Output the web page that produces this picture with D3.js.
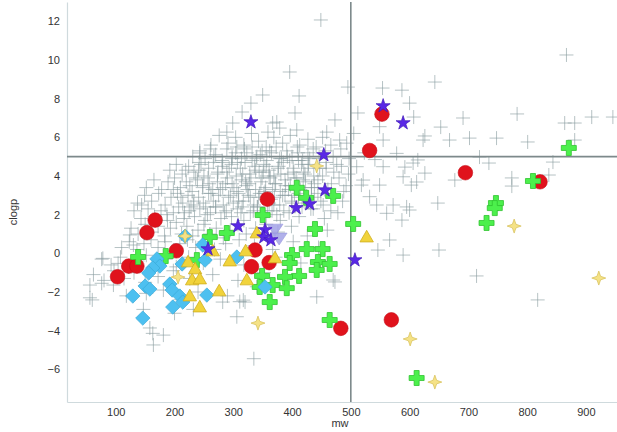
<!DOCTYPE html>
<html><head><meta charset="utf-8">
<script src="https://cdn.jsdelivr.net/npm/d3@7"></script>
<style>body{margin:0;background:#fff} text{font-family:"Liberation Sans",Arial,sans-serif}</style>
</head><body><svg id="c" width="617" height="432"></svg>
<script>
const xTicks=[100,200,300,400,500,600,700,800,900];
const yTicks=[-6,-4,-2,0,2,4,6,8,10,12];
const refX=500, refY=5;

const grayOuter=[[449,12.07],[867,10.26],[643,8.86],[587,8.44],[600,7.77],[607,7.05],[691,7.0],[783,7.21],[653,6.53],[626,6.07],[668,5.86],[702,5.96],[748,5.96],[801,5.76],[864,6.74],[881,6.74],[910,7.05],[946,7.05],[881,5.86],[719,4.98],[735,4.67],[844,4.72],[837,4.05],[774,3.9],[774,3.48],[677,3.79],[626,4.15],[612,3.69],[592,4.46],[614,4.83],[648,2.6],[595,2.4],[587,1.72],[650,0.17],[589,-0.09],[714,-1.17],[818,-2.41],[396,9.38],[412,8.14],[350,8.19],[330,7.77],[495,8.6],[554,8.55],[512,7.26],[473,6.9],[405,7.26],[374,6.79],[315,7.31],[299,6.74],[289,6.27],[367,6.74],[359,6.27],[379,6.48],[408,6.38],[459,6.27],[481,5.86],[243,5.19],
[518,3.53],[549,3.53],[603,3.53],[544,2.5],[572,2.5],[600,2.24],[561,2.07],[566,0.69],[546,0.17],[510,4.48],[521,3.79],[555,4.48],[589,3.96],[532,2.93],[555,5.86],[578,5.17],[606,4.67],[549,6.55],[623,5.86],[523,5.2],[541,4.85],
[306,-3.28],[317,-2.42],[320,-2.52],[282,-2.52],[442,-2.25],[470,-1.38],[473,-1.48],[163,-4.14],[181,-4.23],[164,-4.74],[158,-3.86],[335,-5.45],[311,-2.5],[340,-1.73],
[56,-2.3],[60,-2.41],[56,-1.64],[76,-1.55],[96,-1.64],[104,-0.52],[78,-0.26],[124,0.95],[144,2.5],[130,0.43],[152,-2.07],[181,-1.9]];

const grayCloud=[[262,5.6],[276,6.1],[291,5.7],[304,6.0],[318,5.6],[331,6.2],[343,5.8],[356,5.5],[369,6.0],[384,5.7],[397,6.1],[413,5.6],[427,5.9],[441,5.5],[452,6.0],[466,5.6],[493,5.7],[505,6.2],
[231,5.0],[243,5.3],[252,4.9],[261,5.4],[270,5.1],[281,4.8],[289,5.4],[298,5.0],[306,5.5],[314,4.9],[323,5.2],[332,5.5],[340,5.0],[349,5.3],[357,4.8],[365,5.2],[373,5.5],[382,4.9],[391,5.3],[400,5.0],[409,5.5],[418,4.8],[427,5.2],[436,5.4],[446,4.9],[457,5.3],[470,5.0],[483,5.4],[497,4.9],
[192,4.3],[203,4.6],[213,4.1],[224,4.5],[233,4.2],[242,4.7],[250,4.0],[258,4.4],[266,4.7],[273,4.1],[281,4.5],[289,4.2],[297,4.6],[305,4.0],[312,4.4],[320,4.7],[328,4.1],[336,4.5],[344,4.2],[352,4.6],[361,4.3],[369,4.0],[377,4.5],[385,4.7],[393,4.1],[402,4.4],[411,4.8],[420,4.2],[428,4.6],[437,4.0],[447,4.4],[458,4.7],[471,4.2],[484,4.5],[496,4.1],
[152,3.4],[165,3.8],[178,3.3],[189,3.7],[200,3.9],[210,3.4],[220,3.7],[230,3.2],[239,3.8],[248,3.5],[257,3.9],[265,3.3],[273,3.7],[282,3.4],[290,3.9],[298,3.6],[306,3.2],[314,3.8],[322,3.5],[330,3.9],[338,3.3],[347,3.7],[355,3.4],[363,3.9],[371,3.6],[380,3.2],[388,3.8],[397,3.5],[405,3.9],[414,3.3],[423,3.7],[433,3.4],[444,3.8],[455,3.3],[467,3.6],[480,3.9],[492,3.5],
[137,2.6],[149,3.0],[161,2.7],[173,3.1],[184,2.5],[194,2.9],[205,3.1],[214,2.6],[223,3.0],[232,2.5],[241,2.9],[249,2.6],[258,3.1],[266,2.7],[275,3.0],[283,2.5],[292,2.9],[300,2.6],[309,3.1],[317,2.7],[326,3.0],[335,2.5],[343,2.9],[352,3.1],[361,2.6],[370,2.9],[379,2.5],[388,3.0],[399,2.7],[411,3.1],[424,2.6],[438,2.9],[453,2.5],[469,3.0],[486,2.7],
[131,2.2],[143,1.8],[155,2.3],[166,1.9],[177,2.2],[188,1.7],[198,2.1],[207,2.4],[216,1.8],[225,2.2],[234,1.9],[243,2.3],[252,1.7],[261,2.1],[270,2.4],[279,1.8],[288,2.2],[297,1.9],[307,2.3],[318,1.7],[329,2.1],[341,2.4],[353,1.9],[366,2.2],[380,1.7],[395,2.1],[412,1.9],[432,2.3],[455,1.8],[478,2.1],
[126,1.3],[138,1.0],[150,1.5],[161,1.1],[172,1.4],[183,0.9],[193,1.3],[203,1.6],[212,1.0],[221,1.4],[231,0.9],[240,1.2],[250,1.5],[260,1.0],[271,1.3],[283,0.8],[295,1.2],[308,1.5],[322,1.0],[338,1.3],[356,1.5],[376,1.1],[399,1.4],[426,0.9],[460,1.2],
[110,0.3],[123,0.6],[136,0.2],[148,0.5],[160,0.7],[172,0.3],[184,0.6],[196,0.1],[209,0.5],[222,0.7],[236,0.3],[251,0.6],[268,0.2],[287,0.5],[310,0.7],[336,0.4],[367,0.2],[402,0.6],[445,0.3],
[76,-0.3],[92,-0.6],[108,-0.2],[122,-0.7],[137,-0.4],[152,-0.1],[168,-0.6],[185,-0.3],[203,-0.7],[224,-0.2],[249,-0.5],[278,-0.3],[318,-0.6],[372,-0.2],[415,-0.5],
[62,-1.1],[80,-1.4],[97,-0.9],[114,-1.3],[131,-1.0],[150,-1.5],[172,-1.2],[198,-0.9],[226,-1.3],[265,-1.1],[308,-1.4],[352,-1.0],
[118,-2.2],[210,-2.4],[240,-2.0],[290,-2.2],[147,-2.9],[200,-3.1],[232,-2.9]];

const grayCore=[[262,3.1],[274,4.2],[287,3.6],[298,4.9],[309,2.7],[316,4.1],[324,3.3],[332,4.8],[341,2.4],[349,3.9],[356,4.5],[364,2.8],[372,3.6],[379,4.9],[386,2.2],[394,3.3],[403,4.2],[411,2.9],[419,3.8],[427,4.4],[436,2.3],[444,3.1],[270,2.4],[282,4.7],[295,3.0],[304,5.2],[313,2.1],[321,3.7],[329,2.9],[338,4.3],[346,5.1],[354,3.2],[361,4.0],[369,2.5],[376,4.4],[384,3.0],[392,5.0],[400,2.6],[408,3.9],[416,4.6],[425,2.8],[433,3.4],[452,4.0],[461,3.3],[256,2.0],[248,3.4],[241,4.3],[233,2.7],[226,3.5],[217,2.1]];

const grayCore2=[[245,4.6],[253,2.4],[259,3.6],[267,5.0],[278,3.3],[285,2.1],[293,4.4],[301,3.4],[307,4.7],[315,2.4],[319,5.4],[327,3.6],[334,2.2],[339,4.9],[345,3.1],[351,4.2],[358,2.2],[362,5.3],[367,3.3],[374,2.0],[381,4.1],[389,3.5],[396,4.8],[404,3.0],[410,5.2],[417,2.4],[422,4.1],[430,4.9],[438,3.6],[449,2.7],[458,4.4],[466,2.2],[476,4.6],[488,3.2],[236,3.9],[228,2.4],[219,4.3],[211,2.9],[198,3.3],[187,2.0]];

const redPts=[[103,-1.21],[122,-0.66],[136,-0.66],[153,1.07],[167,1.72],[203,0.13],[358,2.8],[337,0.17],[331,-0.69],[361,-0.48],[483,-3.88],[569,-3.44],[695,4.17],[822,3.7],[553,7.2],[532,5.32]];
const greenPts=[[138,-0.19],[185,-0.14],[260,0.84],[289,1.05],[238,-0.35],[350,1.98],[408,3.39],[424,2.87],[470,2.97],[439,1.26],[504,1.52],[400,-0.09],[425,0.22],[452,0.22],[444,-0.45],[464,-0.55],[396,-0.5],[442,-0.86],[412,-1.17],[388,-1.22],[349,-1.17],[367,-1.64],[391,-1.8],[345,-1.74],[362,-2.52],[464,-3.45],[871,5.45],[810,3.74],[747,2.6],[745,2.34],[731,1.57],[612,-6.45]];
const bluePts=[[218,0.89],[248,0.43],[252,-0.35],[213,-0.55],[170,-0.29],[175,-0.66],[163,-0.76],[156,-1.02],[150,-1.69],[158,-1.85],[129,-2.21],[192,-1.59],[196,-1.9],[209,-2.21],[214,-2.52],[197,-2.78],[255,-2.16],[306,-0.19],[354,-1.74],[146,-3.35]];
const yellowTri=[[223,-0.5],[235,-0.86],[230,-1.43],[243,-1.38],[226,-2.26],[243,-2.83],[276,-2.0],[294,-0.45],[265,0.07],[321,0.07],[323,-1.43],[371,-0.29],[340,1.0],[527,0.79]];
const purpleStar=[[330,6.79],[454,5.09],[555,7.62],[589,6.74],[456,3.27],[407,2.35],[430,2.55],[308,1.41],[257,0.22],[354,1.21],[352,0.84],[364,0.69],[507,-0.35]];
const lightStar=[[218,0.89],[206,-1.23],[342,-3.61],[442,4.52],[778,1.41],[922,-1.28],[601,-4.43],[643,-6.66]];
const lavender=[[371,1.25],[378,0.79]];

const svg=d3.select('#c');
const x=d3.scaleLinear().domain([17,953]).range([67,617]);
const y=d3.scaleLinear().domain([-7.69,13.0]).range([402,2]);

const ax=svg.append('g').attr('transform','translate(0,402)')
  .call(d3.axisBottom(x).tickValues(xTicks).tickSize(0).tickSizeOuter(0).tickPadding(6).tickFormat(d3.format('d')));
const ay=svg.append('g').attr('transform','translate(67,0)')
  .call(d3.axisLeft(y).tickValues(yTicks).tickSize(0).tickSizeOuter(0).tickPadding(7).tickFormat(d3.format('d')));
[ax,ay].forEach(g=>{
  g.select('.domain').attr('stroke','#cfdadd').attr('stroke-width',1.2);
  g.selectAll('text').attr('fill','#333').style('font-size','11px').style('font-family','"Liberation Sans",Arial,sans-serif');
});
svg.append('text').attr('x',340).attr('y',427).attr('text-anchor','middle')
  .attr('fill','#333').style('font-size','11px').text('mw');
svg.append('text').attr('transform','translate(17,212) rotate(-90)').attr('text-anchor','middle')
  .attr('fill','#333').style('font-size','11px').text('clogp');

const grayAll=grayOuter.concat(grayCloud,grayCore,grayCore2);
svg.append('g').selectAll('path').data(grayAll).join('path')
  .attr('transform',d=>`translate(${x(d[0])},${y(d[1])})`)
  .attr('d','M-7,0H7M0,-7V7')
  .attr('stroke','#86999d').attr('stroke-opacity',0.6).attr('stroke-width',1).attr('fill','none');

svg.append('line').attr('x1',x(17)).attr('x2',x(953)).attr('y1',y(refY)).attr('y2',y(refY))
  .attr('stroke','#7d898b').attr('stroke-width',1.6);
svg.append('line').attr('x1',x(refX)).attr('x2',x(refX)).attr('y1',y(13)).attr('y2',y(-7.69))
  .attr('stroke','#7d898b').attr('stroke-width',1.6);

function layer(data,pathD,fill,stroke,sw,op){
  svg.append('g').selectAll('path').data(data).join('path')
    .attr('transform',d=>`translate(${x(d[0])},${y(d[1])})`)
    .attr('d',pathD).attr('fill',fill).attr('stroke',stroke).attr('stroke-width',sw)
    .attr('fill-opacity',op||1);
}
layer(redPts,d3.symbol().type(d3.symbolCircle).size(Math.PI*7.3*7.3)(),'#e0121c','#c40c15',0.6);
layer(greenPts,d3.symbol().type(d3.symbolCross).size(125)(),'#4cf04c','#30c430',0.8);
layer(bluePts,'M0,-7.2L7.2,0L0,7.2L-7.2,0Z','#4dc0f0','#38a9d9',0.7);
layer(yellowTri,d3.symbol().type(d3.symbolTriangle).size(78)(),'#f1d33b','#cfae1f',0.8);
layer(lavender,'M-8,-5L8,-5L0,7Z','#a2a2e6','#9090d8',0.5,0.85);
layer(purpleStar,d3.symbol().type(d3.symbolStar).size(62)(),'#5a28e6','#3f18b8',0.7);
layer(lightStar,'M0,-7L1.8,-1.8L7,0L1.8,1.8L0,7L-1.8,1.8L-7,0L-1.8,-1.8Z','#f5e286','#d6bf55',0.7);
</script></body></html>
